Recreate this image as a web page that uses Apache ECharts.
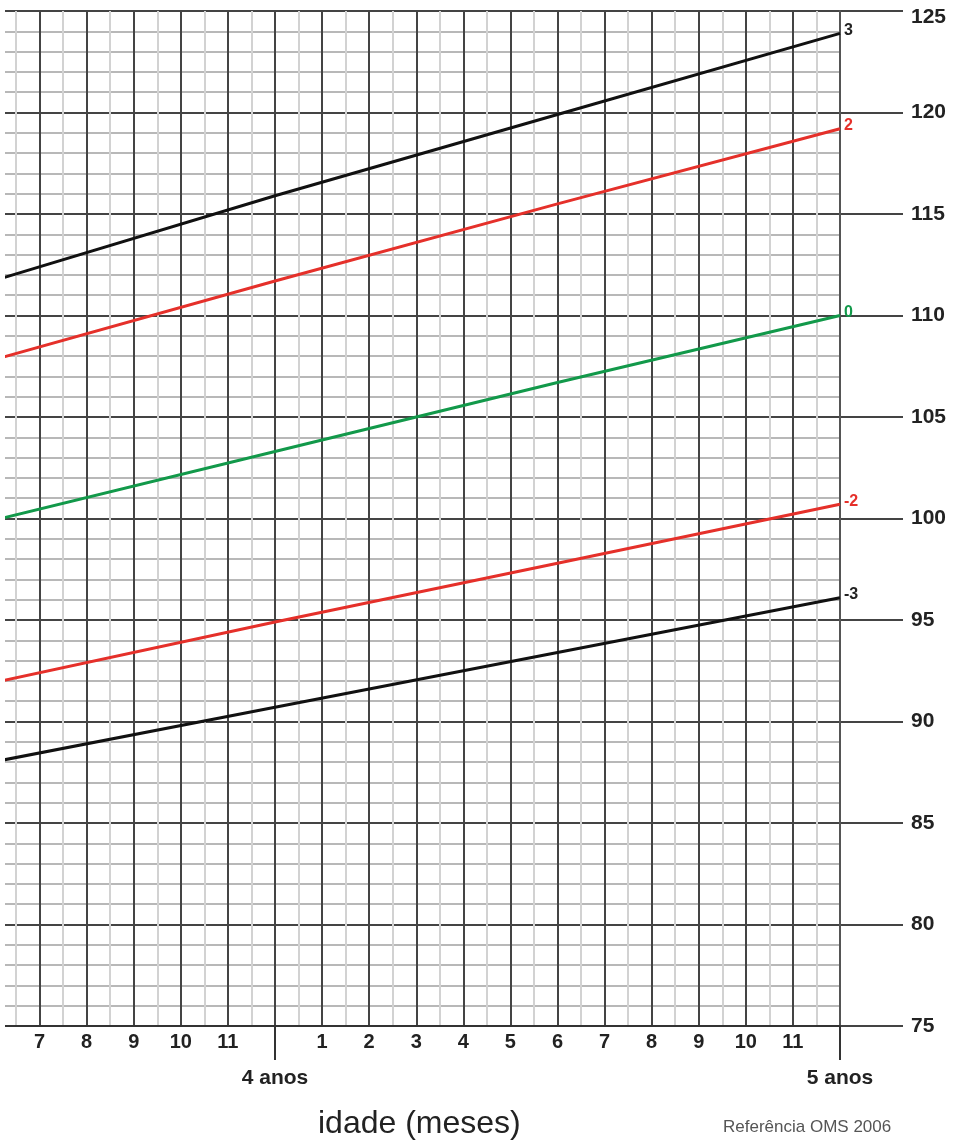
<!DOCTYPE html>
<html lang="pt">
<head>
    <meta charset="UTF-8">
    <title>Altura por idade</title>
    <script src="https://cdn.jsdelivr.net/npm/echarts@6/dist/echarts.min.js"></script>
    <style>
        html, body { margin: 0; padding: 0; background: #fff; }
        #chart { width: 959px; height: 1144px; }
    </style>
</head>
<body>
    <div id="chart"></div>
    <script>
        const months = [42, 48, 54, 60];
        // altura (cm) por escore-z
        const zNeg3 = [88.0, 90.7, 93.4, 96.1];
        const zNeg2 = [91.9, 94.9, 97.8, 100.7];
        const zZero = [99.9, 103.3, 106.7, 110.0];
        const zPos2 = [107.8, 111.7, 115.5, 119.2];
        const zPos3 = [111.7, 115.9, 119.9, 123.9];

        // rótulos do eixo x
        const monthTicks = [43, 44, 45, 46, 47, 49, 50, 51, 52, 53, 54, 55, 56, 57, 58, 59];
        const monthTickLabels = ['7', '8', '9', '10', '11', '1', '2', '3', '4', '5', '6', '7', '8', '9', '10', '11'];
        const yearTicks = [48, 60];
        const yearTickLabels = ['4 anos', '5 anos'];

        const FONT = "'Liberation Sans', Arial, sans-serif";
        const DARK = '#444';

        function pairs(vals) {
            return months.map((m, i) => [m, vals[i]]);
        }

        function curve(name, vals, color, labelColor) {
            return {
                name: name,
                type: 'line',
                xAxisIndex: 0,
                yAxisIndex: 0,
                data: pairs(vals),
                showSymbol: false,
                silent: true,
                lineStyle: { color: color, width: 3 },
                itemStyle: { color: color },
                endLabel: {
                    show: true,
                    formatter: name,
                    color: labelColor,
                    fontFamily: FONT,
                    fontSize: 16,
                    fontWeight: 'bold',
                    distance: 4,
                    offset: [0, -3]
                },
                z: 5
            };
        }

        const chart = echarts.init(document.getElementById('chart'), null, { renderer: 'canvas' });
        chart.setOption({
            animation: false,
            backgroundColor: '#fff',
            title: [
                {
                    text: 'idade (meses)', left: 313, top: 1103,
                    textStyle: { fontFamily: FONT, fontSize: 32, fontWeight: 'normal', color: '#222' }
                },
                {
                    text: 'Referência OMS 2006', left: 718, top: 1114,
                    textStyle: { fontFamily: FONT, fontSize: 17, fontWeight: 'normal', color: '#555' }
                }
            ],
            grid: [
                { right: 119, width: 847.5, top: 11, bottom: 118, containLabel: false, outerBoundsMode: 'none' },
                { left: 840, right: 56, top: 11, bottom: 118, containLabel: false, outerBoundsMode: 'none' }
            ],
            xAxis: [
                {
                    gridIndex: 0, type: 'value', min: 42, max: 60, interval: 1,
                    axisLine: { show: true, onZero: false, lineStyle: { color: '#333', width: 2 } },
                    axisTick: { show: false },
                    axisLabel: {
                        customValues: monthTicks,
                        formatter: v => monthTickLabels[monthTicks.indexOf(v)] || '',
                        margin: 6, fontFamily: FONT, fontSize: 20, fontWeight: 'bold', color: '#222'
                    },
                    splitLine: { show: true, lineStyle: { color: DARK, width: 2 } },
                    minorTick: { show: false, splitNumber: 2 },
                    minorSplitLine: { show: true, lineStyle: { color: '#d2d2d2', width: 2 } }
                },
                {
                    gridIndex: 0, type: 'value', min: 42, max: 60, position: 'bottom',
                    axisLine: { show: false },
                    axisTick: { show: true, customValues: yearTicks, length: 34, lineStyle: { color: '#333', width: 2 } },
                    axisLabel: {
                        customValues: yearTicks,
                        formatter: v => yearTickLabels[yearTicks.indexOf(v)] || '',
                        margin: 42, fontFamily: FONT, fontSize: 21, fontWeight: 'bold', color: '#222'
                    },
                    splitLine: { show: false }
                },
                { gridIndex: 1, type: 'value', min: 0, max: 1, show: false }
            ],
            yAxis: [
                {
                    gridIndex: 0, type: 'value', min: 75, max: 125, interval: 5, position: 'right',
                    axisLine: { show: true, lineStyle: { color: DARK, width: 2 } },
                    axisTick: { show: false },
                    axisLabel: { show: false },
                    splitLine: { show: true, lineStyle: { color: DARK, width: 2 } },
                    minorTick: { show: false, splitNumber: 5 },
                    minorSplitLine: { show: true, lineStyle: { color: '#b8b8b8', width: 2 } }
                },
                {
                    gridIndex: 1, type: 'value', min: 75, max: 125, interval: 5, position: 'right',
                    axisLine: { show: true, lineStyle: { color: '#555', width: 2 } },
                    axisTick: { show: false },
                    axisLabel: {
                        margin: 8, fontFamily: FONT, fontSize: 21, fontWeight: 'bold', color: '#222',
                        formatter: v => v === 125 ? '{top|125}' : String(v),
                        rich: { top: { padding: [13, 0, 0, 0], fontFamily: FONT, fontSize: 21, fontWeight: 'bold', color: '#222' } }
                    },
                    splitLine: { show: true, lineStyle: { color: DARK, width: 2 } }
                }
            ],
            graphic: [
                { type: 'rect', left: 0, top: 0, shape: { width: 5, height: 1144 }, style: { fill: '#fff' }, z: 100 }
            ],
            series: [
                curve('3', zPos3, '#111', '#222'),
                curve('2', zPos2, '#e5302a', '#e5302a'),
                curve('0', zZero, '#12994a', '#12994a'),
                curve('-2', zNeg2, '#e5302a', '#e5302a'),
                curve('-3', zNeg3, '#111', '#222')
            ]
        });
    </script>
</body>
</html>
